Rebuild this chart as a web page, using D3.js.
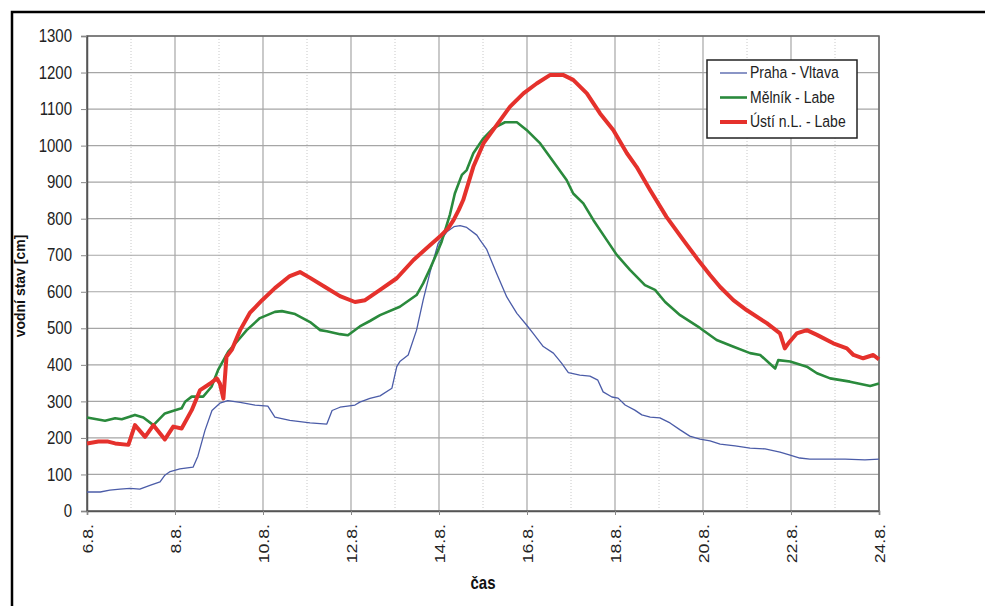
<!DOCTYPE html>
<html>
<head>
<meta charset="utf-8">
<script src="https://cdn.jsdelivr.net/npm/d3@7"></script>
<style>
  body { margin: 0; background: #fff; }
  svg { display: block; font-family: "Liberation Sans", Arial, sans-serif; }
</style>
</head>
<body>
<svg id="vis" width="985" height="606"></svg>
<script>
// den v srpnu (6.0 = 6.8.), hodnota v cm
var prahaDays = [6.00, 6.30, 6.52, 6.75, 6.98, 7.20, 7.43, 7.66, 7.77, 7.89, 8.11, 8.41, 8.52, 8.68, 8.84, 9.02, 9.20, 9.48, 9.82, 10.11,
    10.27, 10.61, 11.07, 11.45, 11.57, 11.75, 12.09, 12.20, 12.43, 12.66, 12.93, 13.04, 13.11, 13.30, 13.49, 13.64, 13.80, 13.98, 14.18, 14.34,
    14.48, 14.63, 14.86, 14.93, 15.08, 15.31, 15.54, 15.77, 15.99, 16.14, 16.37, 16.60, 16.79, 16.94, 17.20, 17.43, 17.61, 17.73, 17.93, 18.07,
    18.23, 18.45, 18.61, 18.80, 19.02, 19.25, 19.48, 19.70, 19.93, 20.16, 20.39, 20.73, 21.07, 21.41, 21.75, 21.98, 22.20, 22.43, 22.77, 23.23,
    23.68, 24.00];
var prahaValues = [52, 52, 57, 60, 62, 60, 70, 80, 98, 108, 115, 120, 150, 220, 275, 295, 302, 297, 290, 287,
    257, 248, 241, 238, 275, 284, 290, 298, 308, 315, 336, 395, 409, 427, 495, 577, 655, 732, 764, 778,
    781, 776, 755, 742, 717, 650, 586, 541, 509, 486, 450, 432, 404, 379, 372, 369, 358, 326, 312, 309,
    290, 276, 263, 257, 255, 241, 222, 205, 197, 192, 183, 178, 172, 170, 161, 153, 145, 142, 142, 142,
    140, 142];

var melnikDays = [6.00, 6.41, 6.64, 6.79, 7.09, 7.28, 7.51, 7.77, 8.00, 8.15, 8.23, 8.38, 8.64, 8.83, 8.98, 9.21, 9.44, 9.63, 9.93, 10.27,
    10.43, 10.73, 11.07, 11.30, 11.45, 11.75, 11.93, 12.20, 12.43, 12.66, 13.11, 13.49, 13.64, 13.80, 13.98, 14.06, 14.14, 14.25, 14.36, 14.52,
    14.63, 14.78, 15.01, 15.23, 15.50, 15.77, 15.99, 16.30, 16.60, 16.90, 17.05, 17.28, 17.51, 17.81, 18.04, 18.34, 18.68, 18.91, 19.14, 19.48,
    19.93, 20.31, 20.68, 21.07, 21.30, 21.64, 21.71, 21.98, 22.36, 22.59, 22.89, 23.34, 23.80, 24.00];
var melnikValues = [256, 247, 254, 251, 263, 256, 235, 267, 276, 281, 299, 313, 313, 340, 386, 436, 468, 495, 528, 545,
    547, 539, 517, 495, 492, 484, 481, 505, 520, 536, 559, 591, 623, 664, 714, 737, 769, 812, 869, 920,
    933, 979, 1020, 1047, 1064, 1064, 1043, 1006, 956, 906, 869, 842, 796, 742, 701, 660, 618, 605, 572, 536,
    501, 468, 450, 432, 427, 390, 413, 409, 395, 377, 363, 354, 342, 349];

var ustiDays = [6.00, 6.26, 6.48, 6.64, 6.94, 7.09, 7.32, 7.51, 7.77, 7.96, 8.15, 8.38, 8.57, 8.80, 8.95, 9.02, 9.10, 9.17, 9.29, 9.48,
    9.70, 9.98, 10.27, 10.61, 10.84, 11.07, 11.41, 11.75, 12.09, 12.32, 12.66, 13.04, 13.42, 13.80, 14.02, 14.21, 14.33, 14.45, 14.55, 14.78,
    15.01, 15.31, 15.61, 15.92, 16.22, 16.52, 16.83, 17.05, 17.36, 17.66, 17.96, 18.27, 18.49, 18.80, 19.17, 19.55, 19.86, 20.16, 20.39, 20.69,
    20.99, 21.45, 21.75, 21.86, 21.94, 22.13, 22.36, 22.59, 22.96, 23.27, 23.42, 23.64, 23.87, 24.00];
var ustiValues = [185, 190, 190, 185, 181, 235, 203, 235, 196, 231, 226, 276, 331, 349, 363, 349, 308, 422, 441, 495,
    542, 577, 610, 643, 654, 638, 613, 588, 572, 577, 605, 637, 687, 728, 751, 774, 796, 824, 851, 942,
    1006, 1056, 1106, 1143, 1170, 1193, 1193, 1180, 1143, 1088, 1043, 979, 942, 878, 805, 742, 692, 646, 613, 577,
    550, 514, 486, 445, 459, 486, 495, 482, 459, 445, 427, 418, 427, 415];

var seriesNames = ["Praha - Vltava", "Mělník - Labe", "Ústí n.L. - Labe"];
var xTickDays = [6, 8, 10, 12, 14, 16, 18, 20, 22, 24];
var yTicks = d3.range(0, 1301, 100);

var margin = { left: 87, right: 106, top: 36, bottom: 95 };
var width = 985 - margin.left - margin.right;
var height = 606 - margin.top - margin.bottom;

var svg = d3.select("#vis");

// vnejsi ramecek
svg.append("rect")
    .attr("x", 12)
    .attr("y", 12)
    .attr("width", 1000)
    .attr("height", 1000)
    .attr("fill", "none")
    .attr("stroke", "#000")
    .attr("stroke-width", 2.5);

var g = svg.append("g")
    .attr("transform", "translate(" + margin.left + "," + margin.top + ")");

var xScale = d3.scaleLinear().domain([6, 24]).range([0, width]);
var yScale = d3.scaleLinear().domain([0, 1300]).range([height, 0]);

// mrizka
g.append("g")
    .selectAll("line")
    .data(d3.range(7, 24, 2))
    .enter()
    .append("line")
    .attr("x1", d => xScale(d))
    .attr("x2", d => xScale(d))
    .attr("y1", 0)
    .attr("y2", height)
    .attr("stroke", "#c8c8c8")
    .attr("stroke-dasharray", "1,2");

g.append("g")
    .selectAll("line")
    .data(xTickDays)
    .enter()
    .append("line")
    .attr("x1", d => xScale(d))
    .attr("x2", d => xScale(d))
    .attr("y1", 0)
    .attr("y2", height)
    .attr("stroke", "#a6a6a6")
    .attr("stroke-width", 1.2);

g.append("g")
    .selectAll("line")
    .data(yTicks)
    .enter()
    .append("line")
    .attr("x1", 0)
    .attr("x2", width)
    .attr("y1", d => yScale(d))
    .attr("y2", d => yScale(d))
    .attr("stroke", "#a6a6a6")
    .attr("stroke-width", 1.2);

g.append("rect")
    .attr("width", width)
    .attr("height", height)
    .attr("fill", "none")
    .attr("stroke", "#666")
    .attr("stroke-width", 1.5);

// osy
var yAxis = d3.axisLeft(yScale).tickValues(yTicks).tickSize(6).tickPadding(9)
    .tickFormat(d3.format("d"));
var xAxis = d3.axisBottom(xScale).tickValues(xTickDays).tickSize(4)
    .tickFormat(d => d + ".8.");

var yG = g.append("g").call(yAxis);
yG.attr("font-size", null).attr("font-family", null);
yG.select(".domain").attr("stroke", "#555").attr("stroke-width", 1.5);
yG.selectAll(".tick line").attr("stroke", "#888");
yG.selectAll("text")
    .style("font-size", "15px")
    .attr("fill", "#222")
    .attr("transform", "scale(1,1.18)");

var xG = g.append("g")
    .attr("transform", "translate(0," + height + ")")
    .call(xAxis);
xG.attr("font-size", null).attr("font-family", null);
xG.select(".domain").attr("stroke", "#555").attr("stroke-width", 1.5);
xG.selectAll(".tick line").attr("stroke", "#888");
xG.selectAll("text")
    .style("font-size", "15px")
    .attr("fill", "#222")
    .attr("transform", "scale(1,1.18) rotate(-90)")
    .attr("x", -11)
    .attr("y", 0)
    .attr("dy", "0.35em")
    .style("text-anchor", "end");

// popisky os
svg.append("text")
    .attr("transform", "translate(25,286) rotate(-90)")
    .attr("text-anchor", "middle")
    .style("font-size", "14px")
    .attr("font-weight", "bold")
    .attr("fill", "#111")
    .text("vodní stav [cm]");

svg.append("text")
    .attr("transform", "translate(" + (margin.left + width / 2) + ",589) scale(1,1.18)")
    .attr("text-anchor", "middle")
    .style("font-size", "15px")
    .attr("font-weight", "bold")
    .attr("fill", "#111")
    .text("čas");

// krivky
var series = [
    { name: seriesNames[0], days: prahaDays, values: prahaValues, color: "#4b5ca8", width: 1.3 },
    { name: seriesNames[1], days: melnikDays, values: melnikValues, color: "#2a8a3c", width: 2.6 },
    { name: seriesNames[2], days: ustiDays, values: ustiValues, color: "#e5312c", width: 4 }
];

var line = d3.line()
    .x(d => xScale(d[0]))
    .y(d => yScale(d[1]));

series.forEach(function(s) {
    var pts = s.days.map((d, i) => [d, s.values[i]]);
    g.append("path")
        .datum(pts)
        .attr("d", line)
        .attr("fill", "none")
        .attr("stroke", s.color)
        .attr("stroke-width", s.width)
        .attr("stroke-linejoin", "round");
});

// legenda
var legend = svg.append("g").attr("transform", "translate(707,60)");
legend.append("rect")
    .attr("width", 150)
    .attr("height", 78)
    .attr("fill", "#fff")
    .attr("stroke", "#222")
    .attr("stroke-width", 1.5);

var items = legend.selectAll(".item")
    .data(series)
    .enter()
    .append("g")
    .attr("transform", (d, i) => "translate(0," + (13 + i * 24.5) + ")");

items.append("line")
    .attr("x1", 13)
    .attr("x2", 40)
    .attr("stroke", d => d.color)
    .attr("stroke-width", d => d.width);

items.append("text")
    .attr("x", 43)
    .attr("dy", "0.35em")
    .attr("transform", "scale(1,1.12)")
    .style("font-size", "14px")
    .attr("fill", "#222")
    .text(d => d.name);
</script>
</body>
</html>
